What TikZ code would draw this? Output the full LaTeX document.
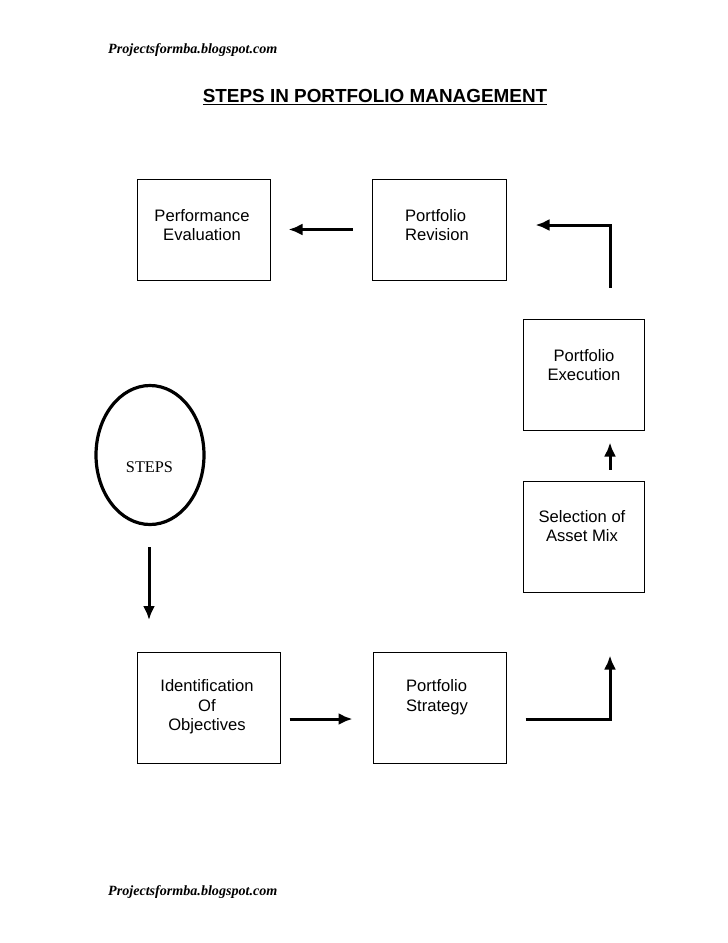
\documentclass[tikz,border=0pt]{standalone}
\usepackage{fontspec}
\setmainfont{Liberation Serif}
\setsansfont{Liberation Sans}
\usepackage{tikz}
\usetikzlibrary{
  arrows.meta,%
  shapes.geometric,%
  positioning,%
  calc
}
\tikzset{>={Latex[length=14pt,width=12pt]}}
\tikzset{stepbox/.style={draw, line width=1pt, inner sep=0pt},
  steptext/.style={align=center, font=\sffamily\fontsize{16.6}{19.5}\selectfont, inner sep=0pt},
  flow/.style={->, line width=3pt},
  siteline/.style={font=\rmfamily\bfseries\itshape\fontsize{14.1}{16}\selectfont, anchor=west, inner sep=0pt}}

\begin{document}
\begin{tikzpicture}[x=1pt, y=-1pt]
      \useasboundingbox (0, 0) rectangle (728, 943); %
      % header, title and footer
      \node[siteline] (head) at (108, 50) {Projectsformba.blogspot.com}; %
      \node[siteline] (foot) at (108, 892) {Projectsformba.blogspot.com}; %
      \node[font=\sffamily\bfseries\fontsize{18.9}{22}\selectfont, inner sep=0pt] (title) at (375, 97)
        {\underline{STEPS IN PORTFOLIO MANAGEMENT}}; %
      % the six boxes
      \node[stepbox, minimum width=133, minimum height=101] (perf) at (203.5, 229.5) {}; %
      \node[stepbox, minimum width=134, minimum height=101] (rev) at (439, 229.5) {}; %
      \node[stepbox, minimum width=121, minimum height=111] (exe) at (583.5, 374.5) {}; %
      \node[stepbox, minimum width=121, minimum height=111] (sel) at (583.5, 536.5) {}; %
      \node[stepbox, minimum width=143, minimum height=111] (ident) at (208.5, 707.5) {}; %
      \node[stepbox, minimum width=133, minimum height=111] (strat) at (439.5, 707.5) {}; %
      \node[steptext] (perf-t) at (202, 225) {Performance\\Evaluation}; %
      \node[steptext, align=left] (rev-t) at (437, 225) {Portfolio\\Revision}; %
      \node[steptext] (exe-t) at (584, 365) {Portfolio\\Execution}; %
      \node[steptext] (sel-t) at (582, 526) {Selection of\\Asset Mix}; %
      \node[steptext] (ident-t) at (207, 707) {Identification\\Of\\Objectives}; %
      \node[steptext, align=left] (strat-t) at (437, 697) {Portfolio\\Strategy}; %
      % the ellipse
      \node[ellipse, draw, line width=3.2pt, minimum width=108, minimum height=139] (steps) at (150, 455) {}; %
      \node[font=\rmfamily\fontsize{16.3}{18}\selectfont, inner sep=0pt] (steps-t) at (149.5, 467) {STEPS}; %
      % free ends of the connectors
      \coordinate (downA) at (149, 547); \coordinate (downB) at (149, 620); %
      \coordinate (turnA) at (610, 225); \coordinate (turnB) at (610, 719); %
      % connectors
      \draw[flow] ([xshift=-19]rev.west) -- ([xshift=18]perf.east); %
      \draw[flow] ([yshift=31]turnA |- exe.north) -- (turnA) -- ([xshift=29]rev.east |- turnA); %
      \draw[flow] ([yshift=11]turnA |- sel.north) -- ([yshift=-12]turnA |- exe.south); %
      \draw[flow] (downA) -- (downB); %
      \draw[flow] ([xshift=9, yshift=-11.5]ident.east) -- ([xshift=-20, yshift=-11.5]strat.west); %
      \draw[flow] ([xshift=19]strat.east |- turnB) -- (turnB) -- ([yshift=-63]turnB |- sel.south); %
    \end{tikzpicture}
\end{document}
